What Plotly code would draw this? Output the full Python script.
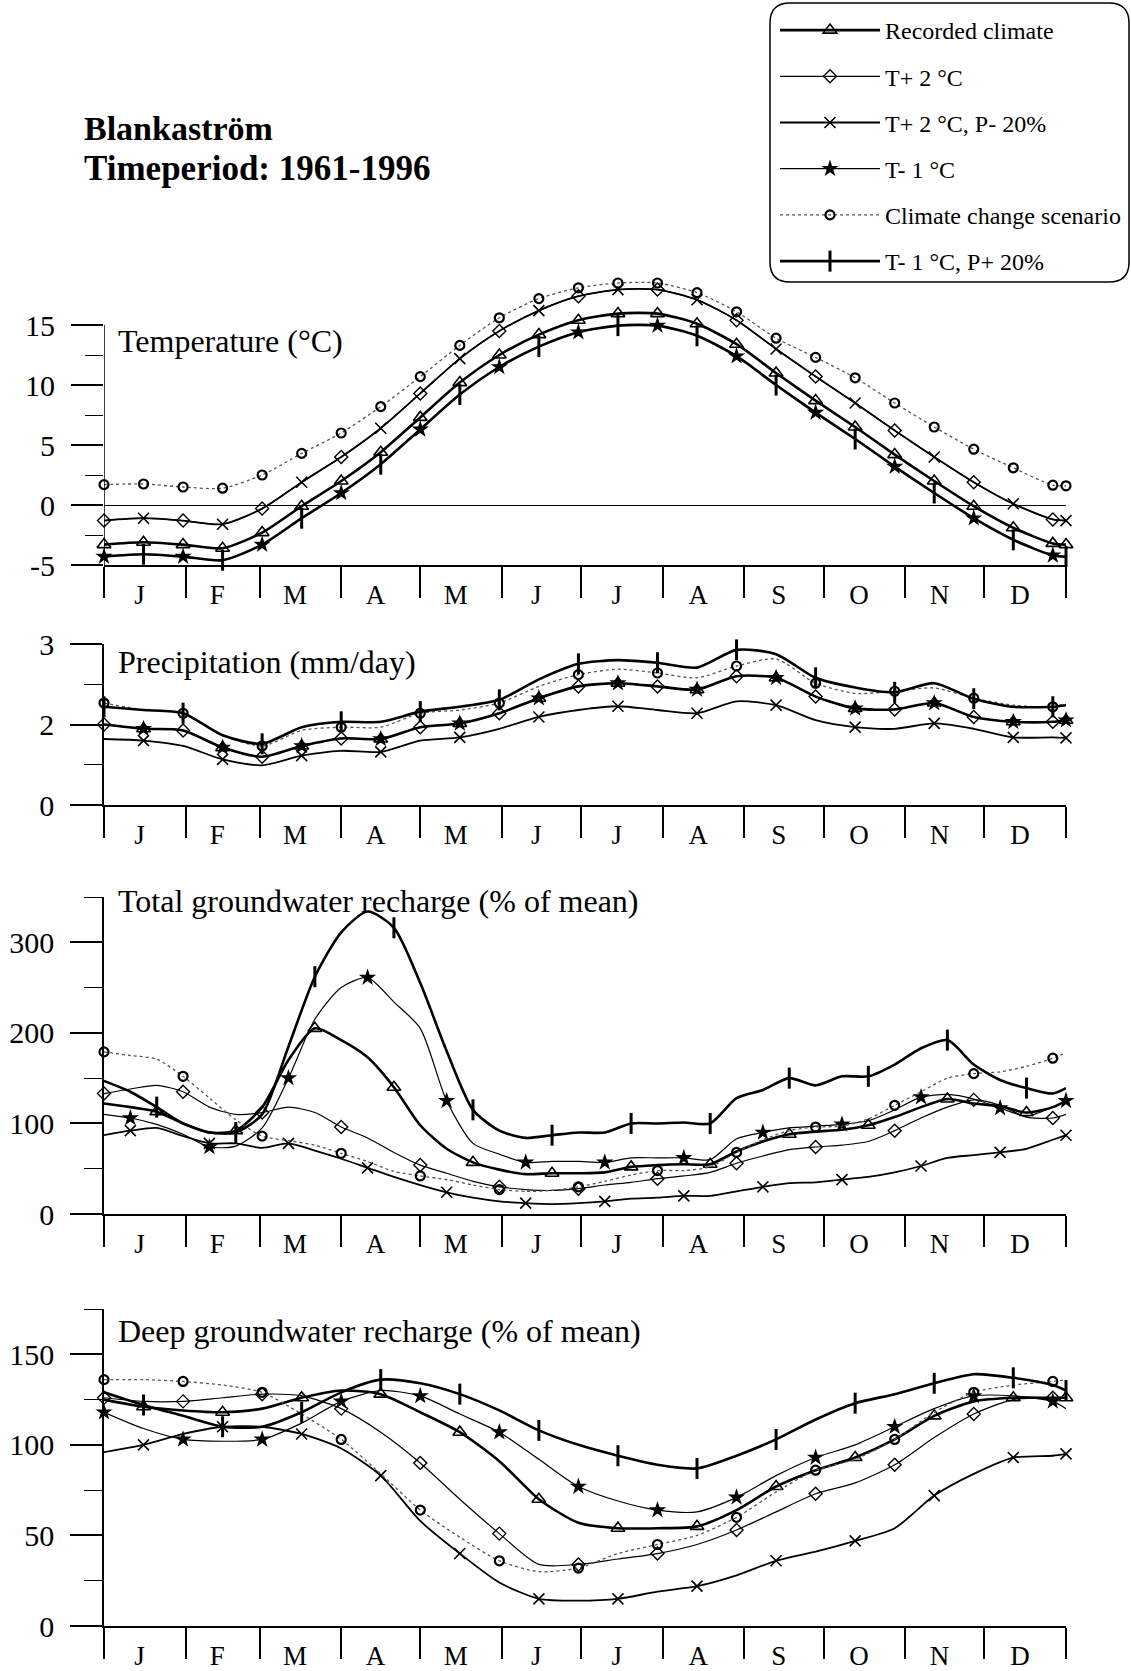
import plotly.graph_objects as go

# ---------------- data ----------------
month_letters = ["J", "F", "M", "A", "M", "J", "J", "A", "S", "O", "N", "D"]
month_bounds = [0, 31, 59, 90, 120, 151, 181, 212, 243, 273, 304, 334, 365]

series_names = ["Recorded climate", "T+ 2 °C", "T+ 2 °C, P- 20%", "T- 1 °C",
                "Climate change scenario", "T- 1 °C, P+ 20%"]

# day-of-year grid (half-monthly) for temperature, precipitation and deep recharge
days15 = [0, 15, 30, 45, 60, 75, 90, 105, 120, 135, 150, 165, 180, 195, 210, 225,
          240, 255, 270, 285, 300, 315, 330, 345, 360, 365]
# 10-day grid for total recharge
days10 = [0, 10, 20, 30, 40, 50, 60, 70, 80, 90, 100, 110, 120, 130, 140, 150, 160,
          170, 180, 190, 200, 210, 220, 230, 240, 250, 260, 270, 280, 290, 300, 310,
          320, 330, 340, 350, 360, 365]

# Temperature (°C)
temp_recorded = [-3.3, -3.1, -3.3, -3.6, -2.3, -0.1, 2.0, 4.4, 7.3, 10.2, 12.5, 14.2, 15.4,
                 15.95, 15.95, 15.1, 13.4, 11.0, 8.7, 6.5, 4.2, 2.0, -0.1, -1.9, -3.2, -3.3]
temp_tp2 = [-1.3, -1.1, -1.3, -1.6, -0.3, 1.9, 4.0, 6.4, 9.3, 12.2, 14.5, 16.2, 17.4,
            17.95, 17.95, 17.1, 15.4, 13.0, 10.7, 8.5, 6.2, 4.0, 1.9, 0.1, -1.2, -1.3]
temp_tp2_pm20 = [-1.3, -1.1, -1.3, -1.6, -0.3, 1.9, 4.0, 6.4, 9.3, 12.2, 14.5, 16.2, 17.4,
                 17.95, 17.95, 17.1, 15.4, 13.0, 10.7, 8.5, 6.2, 4.0, 1.9, 0.1, -1.2, -1.3]
temp_tm1 = [-4.3, -4.1, -4.3, -4.6, -3.3, -1.1, 1.0, 3.4, 6.3, 9.2, 11.5, 13.2, 14.4,
            14.95, 14.95, 14.1, 12.4, 10.0, 7.7, 5.5, 3.2, 1.0, -1.1, -2.9, -4.2, -4.3]
temp_cc = [1.7, 1.75, 1.5, 1.4, 2.5, 4.3, 6.0, 8.2, 10.7, 13.3, 15.6, 17.2, 18.1,
           18.5, 18.5, 17.7, 16.1, 13.9, 12.3, 10.6, 8.5, 6.5, 4.65, 3.1, 1.65, 1.6]
temp_tm1_pp20 = [-4.3, -4.1, -4.3, -4.6, -3.3, -1.1, 1.0, 3.4, 6.3, 9.2, 11.5, 13.2, 14.4,
                 14.95, 14.95, 14.1, 12.4, 10.0, 7.7, 5.5, 3.2, 1.0, -1.1, -2.9, -4.2, -4.3]

# Precipitation (mm/day)
prec_recorded = [1.50, 1.42, 1.39, 1.07, 0.90, 1.10, 1.24, 1.23, 1.45, 1.52, 1.71, 1.99, 2.21,
                 2.27, 2.21, 2.15, 2.40, 2.37, 2.02, 1.80, 1.78, 1.90, 1.64, 1.55, 1.55, 1.58]
prec_tp2 = [1.50, 1.42, 1.39, 1.07, 0.90, 1.10, 1.24, 1.23, 1.45, 1.52, 1.71, 1.99, 2.21,
            2.27, 2.21, 2.15, 2.40, 2.37, 2.02, 1.80, 1.78, 1.90, 1.64, 1.55, 1.55, 1.58]
prec_tp2_pm20 = [1.23, 1.20, 1.10, 0.85, 0.74, 0.92, 1.01, 0.99, 1.20, 1.26, 1.42, 1.64, 1.77,
                 1.84, 1.77, 1.71, 1.93, 1.86, 1.58, 1.45, 1.42, 1.52, 1.42, 1.26, 1.26, 1.25]
prec_tm1 = [1.50, 1.42, 1.39, 1.07, 0.90, 1.10, 1.24, 1.23, 1.45, 1.52, 1.71, 1.99, 2.21,
            2.27, 2.21, 2.15, 2.40, 2.37, 2.02, 1.80, 1.78, 1.90, 1.64, 1.55, 1.55, 1.58]
prec_cc = [1.90, 1.77, 1.71, 1.30, 1.10, 1.39, 1.45, 1.45, 1.71, 1.77, 1.90, 2.21, 2.43,
           2.53, 2.46, 2.37, 2.59, 2.72, 2.27, 2.08, 2.12, 2.18, 1.99, 1.86, 1.83, 1.90]
prec_tm1_pp20 = [1.83, 1.77, 1.71, 1.30, 1.14, 1.45, 1.55, 1.55, 1.74, 1.83, 1.96, 2.34, 2.63,
                 2.70, 2.65, 2.56, 2.89, 2.81, 2.37, 2.19, 2.10, 2.27, 1.98, 1.83, 1.83, 1.86]

# Total groundwater recharge (% of mean)
tot_recorded = [122, 118, 113, 100, 90, 92, 118, 170, 205, 192, 173, 140, 98, 72, 57, 49, 44,
                45, 45, 46, 52, 54, 55, 55, 69, 80, 88, 91, 93, 98, 107, 118, 127, 122, 119,
                112, 118, 125]
tot_tp2 = [133, 138, 142, 135, 118, 110, 112, 118, 112, 96, 84, 68, 54, 45, 36, 30, 27, 26,
           28, 32, 35, 39, 42, 46, 56, 64, 71, 74, 76, 80, 92, 106, 118, 126, 120, 107, 106, 110]
tot_tp2_pm20 = [87, 92, 95, 86, 78, 78, 73, 78, 70, 61, 51, 41, 32, 24, 18, 14, 12, 11, 12,
                14, 17, 18, 20, 20, 25, 30, 34, 35, 38, 41, 46, 53, 62, 65, 68, 72, 82, 87]
tot_tm1 = [110, 106, 99, 88, 74, 75, 95, 150, 215, 250, 261, 234, 205, 125, 78, 66, 57, 58,
           58, 57, 62, 62, 62, 60, 83, 90, 95, 97, 99, 103, 115, 129, 132, 127, 117, 108, 118, 125]
tot_cc = [179, 175, 171, 152, 128, 104, 86, 81, 76, 67, 58, 47, 42, 38, 32, 27, 25, 26, 30,
          36, 43, 48, 48, 52, 68, 82, 92, 96, 97, 105, 120, 135, 150, 155, 157, 163, 172, 178]
tot_tm1_pp20 = [147, 135, 118, 100, 90, 90, 110, 185, 262, 311, 334, 316, 255, 180, 115, 92,
                84, 87, 90, 90, 100, 100, 101, 100, 128, 137, 150, 142, 152, 152, 165, 183,
                192, 165, 148, 139, 133, 139]

# Deep groundwater recharge (% of mean)
deep_recorded = [125, 121, 119, 118, 120, 126, 130, 128, 118, 107, 91, 70, 57, 54, 54, 55, 64,
                 77, 86, 93, 103, 116, 124, 126, 126, 126]
deep_tp2 = [126, 124, 124, 126, 128, 127, 120, 107, 90, 70, 51, 34, 34, 37, 40, 45, 53, 63, 73,
            79, 89, 104, 117, 125, 126, 126]
deep_tp2_pm20 = [96, 100, 106, 110, 110, 106, 98, 83, 58, 40, 24, 15, 14, 15, 19, 22, 28, 36,
                 41, 47, 54, 72, 84, 93, 94, 95]
deep_tm1 = [118, 109, 103, 102, 103, 112, 124, 130, 127, 117, 107, 92, 77, 69, 64, 63, 71, 83,
            93, 100, 110, 120, 127, 127, 124, 120]
deep_cc = [136, 136, 135, 133, 129, 117, 103, 84, 64, 49, 36, 30, 32, 40, 45, 50, 60, 74, 86,
           92, 103, 118, 129, 133, 135, 136]
deep_tm1_pp20 = [129, 122, 116, 110, 110, 118, 129, 136, 134, 128, 119, 108, 100, 94, 89, 87,
                 94, 103, 114, 123, 128, 134, 139, 137, 133, 130]

panels = [
    ("Temperature (°C)", days15,
     [temp_recorded, temp_tp2, temp_tp2_pm20, temp_tm1, temp_cc, temp_tm1_pp20]),
    ("Precipitation (mm/day)", days15,
     [prec_recorded, prec_tp2, prec_tp2_pm20, prec_tm1, prec_cc, prec_tm1_pp20]),
    ("Total groundwater recharge (% of mean)", days10,
     [tot_recorded, tot_tp2, tot_tp2_pm20, tot_tm1, tot_cc, tot_tm1_pp20]),
    ("Deep groundwater recharge (% of mean)", days15,
     [deep_recorded, deep_tp2, deep_tp2_pm20, deep_tm1, deep_cc, deep_tm1_pp20]),
]

# y-axis tick definitions per panel
y_ranges = [[-5, 19], [0, 3], [0, 350], [0, 175]]
y_tickvals = [[-5, 0, 5, 10, 15], [0, 1.5, 3], [0, 100, 200, 300], [0, 50, 100, 150]]
y_ticktext = [["-5", "0", "5", "10", "15"], ["0", "2", "3"], ["0", "100", "200", "300"],
              ["0", "50", "100", "150"]]
y_minor = [[-2.5, 2.5, 7.5, 12.5], [0.75, 2.25], [50, 150, 250, 350], [25, 75, 125, 175]]

# ---------------- layout geometry ----------------
W, H = 1131, 1671
ML, MR = 104, 65
PW = W - ML - MR


def pxx(px):
    return (px - ML) / PW


def pxy(py):
    return 1 - py / H


domains_px = [(277, 565), (644, 805), (897, 1214), (1309, 1626)]
title_y_px = [341, 662, 901, 1331]

FONT = "Liberation Serif"

styles = [
    dict(line=dict(color="black", width=2.6),
         marker=dict(symbol="triangle-up-open", size=12, color="black", line=dict(width=1.6))),
    dict(line=dict(color="black", width=1.2),
         marker=dict(symbol="diamond-open", size=10, color="black", line=dict(width=1.4))),
    dict(line=dict(color="black", width=1.8),
         marker=dict(symbol="x-thin-open", size=11, color="black", line=dict(width=1.6))),
    dict(line=dict(color="black", width=1.2),
         marker=dict(symbol="star", size=13, color="black", line=dict(width=0))),
    dict(line=dict(color="#555555", width=1.3, dash="dot"),
         marker=dict(symbol="circle-open", size=9, color="black", line=dict(width=2.2))),
    dict(line=dict(color="black", width=2.6),
         marker=dict(symbol="line-ns-open", size=15, color="black", line=dict(width=3))),
]

# marker spacing (step, phase) per panel and series
marker_cfg = [
    [(1, 0), (2, 0), (2, 1), (2, 0), (1, 0), (2, 1)],
    [(2, 1), (2, 0), (2, 1), (2, 1), (2, 0), (2, 0)],
    [(3, 2), (3, 0), (3, 1), (3, 1), (3, 0), (3, 2)],
    [(2, 1), (2, 0), (2, 1), (2, 0), (2, 0), (2, 1)],
]

fig = go.Figure()

for p, (ptitle, days, vals_list) in enumerate(panels):
    xa = "x" if p == 0 else f"x{p + 1}"
    ya = "y" if p == 0 else f"y{p + 1}"
    for s, vals in enumerate(vals_list):
        st = styles[s]
        fig.add_trace(go.Scatter(
            x=days, y=vals, mode="lines", xaxis=xa, yaxis=ya,
            line=dict(shape="spline", smoothing=0.7, **st["line"]),
            showlegend=False, hoverinfo="skip"))
        step, phase = marker_cfg[p][s]
        fig.add_trace(go.Scatter(
            x=days[phase::step], y=vals[phase::step], mode="markers", xaxis=xa, yaxis=ya,
            marker=st["marker"], showlegend=False, hoverinfo="skip", cliponaxis=False))

# legend entries
for s, name in enumerate(series_names):
    st = styles[s]
    fig.add_trace(go.Scatter(
        x=[None], y=[None], mode="lines+markers", name=name, legendgroup=name,
        line=st["line"], marker=st["marker"], showlegend=True))

month_centers = [(month_bounds[i] + month_bounds[i + 1]) / 2 - 2 for i in range(12)]

layout = dict(
    width=W, height=H,
    margin=dict(l=ML, r=MR, t=0, b=0, pad=0, autoexpand=False),
    paper_bgcolor="white", plot_bgcolor="white",
    font=dict(family=FONT, color="black"),
    showlegend=True,
    legend=dict(x=pxx(775), y=pxy(8), xanchor="left", yanchor="top",
                bgcolor="rgba(0,0,0,0)", borderwidth=0,
                font=dict(family=FONT, size=24), itemwidth=100,
                tracegroupgap=12, traceorder="grouped"),
)

shapes = []
annotations = []
for p in range(4):
    xk = "xaxis" if p == 0 else f"xaxis{p + 1}"
    yk = "yaxis" if p == 0 else f"yaxis{p + 1}"
    yname = "y" if p == 0 else f"y{p + 1}"
    xname = "x" if p == 0 else f"x{p + 1}"
    top, bot = domains_px[p]
    layout[xk] = dict(
        domain=[0, 1], anchor=yname, range=[0, 365],
        showline=True, linecolor="black", linewidth=2, mirror=False,
        showgrid=False, zeroline=False,
        tickmode="array", tickvals=month_centers, ticktext=month_letters,
        ticks="", ticklabelstandoff=5,
        tickfont=dict(family=FONT, size=27),
        minor=dict(tickmode="array", tickvals=month_bounds, ticks="outside",
                   ticklen=31, tickwidth=1.5, tickcolor="black", showgrid=False),
        fixedrange=True,
    )
    layout[yk] = dict(
        domain=[pxy(bot), pxy(top)], anchor=xname, range=y_ranges[p],
        showline=(p != 0), linecolor="black", linewidth=1.5,
        showgrid=False, zeroline=(p == 0), zerolinecolor="black", zerolinewidth=1,
        tickmode="array", tickvals=y_tickvals[p], ticktext=y_ticktext[p],
        ticks="outside", ticklen=32, tickwidth=1.5, tickcolor="black",
        ticklabelstandoff=10,
        tickfont=dict(family=FONT, size=30),
        minor=dict(tickmode="array", tickvals=y_minor[p], ticks="outside",
                   ticklen=18, tickwidth=1.2, tickcolor="black", showgrid=False),
        fixedrange=True,
    )
    annotations.append(dict(
        text=panels[p][0], xref="paper", yref="paper",
        x=pxx(116), y=pxy(title_y_px[p]), xanchor="left", yanchor="middle",
        showarrow=False, font=dict(family=FONT, size=32)))

# temperature axis spine only from -5 to 15
shapes.append(dict(type="line", xref="x", yref="y", x0=0, x1=0, y0=-5, y1=15,
                   line=dict(color="black", width=1.5)))

# title
annotations.append(dict(text="<b>Blankaström</b>", xref="paper", yref="paper",
                        x=pxx(82), y=pxy(128), xanchor="left", yanchor="middle",
                        showarrow=False, font=dict(family=FONT, size=34)))
annotations.append(dict(text="<b>Timeperiod: 1961-1996</b>", xref="paper", yref="paper",
                        x=pxx(82), y=pxy(168), xanchor="left", yanchor="middle",
                        showarrow=False, font=dict(family=FONT, size=35)))


# rounded legend frame
def rounded_rect(x0, y0, x1, y1, r):
    X = lambda v: pxx(v)
    Y = lambda v: pxy(v)
    return (f"M {X(x0 + r)},{Y(y0)} L {X(x1 - r)},{Y(y0)} "
            f"Q {X(x1)},{Y(y0)} {X(x1)},{Y(y0 + r)} L {X(x1)},{Y(y1 - r)} "
            f"Q {X(x1)},{Y(y1)} {X(x1 - r)},{Y(y1)} L {X(x0 + r)},{Y(y1)} "
            f"Q {X(x0)},{Y(y1)} {X(x0)},{Y(y1 - r)} L {X(x0)},{Y(y0 + r)} "
            f"Q {X(x0)},{Y(y0)} {X(x0 + r)},{Y(y0)} Z")


shapes.append(dict(type="path", xref="paper", yref="paper",
                   path=rounded_rect(770, 3, 1129, 282, 20),
                   line=dict(color="black", width=1.5)))

layout["shapes"] = shapes
layout["annotations"] = annotations
fig.update_layout(**layout)

fig.write_html("out.html")
